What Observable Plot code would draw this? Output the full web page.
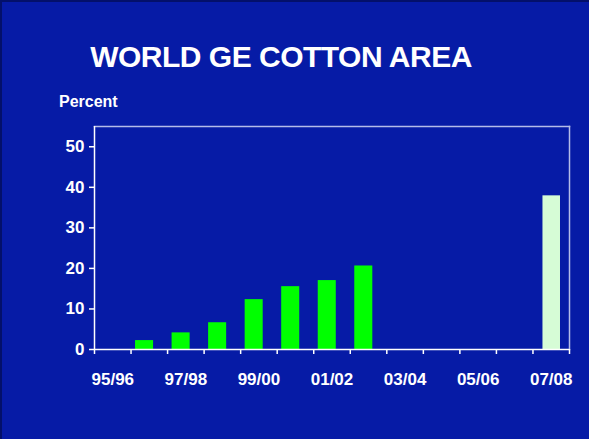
<!DOCTYPE html>
<html>
<head>
<meta charset="utf-8">
<script src="https://cdn.jsdelivr.net/npm/d3@7"></script>
<script src="https://cdn.jsdelivr.net/npm/@observablehq/plot@0.6"></script>
<style>
  html, body { margin: 0; padding: 0; background: #061ba6; }
  #slide { position: relative; width: 589px; height: 439px; background: #061ba6; box-sizing: border-box; border-top: 2px solid #03106a; border-left: 2px solid #03106a; overflow: hidden; font-family: "Liberation Sans", Arial, sans-serif; }
  #title { position: absolute; left: 0; width: 558px; top: 38px; text-align: center; color: #fff; font-weight: bold; font-size: 30px; letter-spacing: -0.5px; }
  #ylabel { position: absolute; left: 57px; top: 91px; color: #fff; font-weight: bold; font-size: 16px; }
  #chart { position: absolute; left: -2px; top: -2px; }
</style>
</head>
<body>
<div id="slide">
  <div id="title">WORLD GE COTTON AREA</div>
  <div id="ylabel">Percent</div>
  <div id="chart"></div>
</div>
<script>
const seasons = ["95/96","96/97","97/98","98/99","99/00","00/01","01/02","02/03","03/04","04/05","05/06","06/07","07/08"];
const values  = [null, 2.2, 4.1, 6.6, 12.3, 15.5, 17.0, 20.6, null, null, null, null, 37.9];
const status  = ["actual","actual","actual","actual","actual","actual","actual","actual","actual","actual","actual","actual","projected"];
const labelEvery = 2;
const yTicks = [0, 10, 20, 30, 40, 50];

const data = seasons.map((s, i) => ({season: s, i, value: values[i], status: status[i]}))
  .filter(d => d.value != null);
const actual = data.filter(d => d.status === "actual");
const projected = data.filter(d => d.status === "projected");

const boundaries = d3.range(seasons.length + 1);
const labelPos = seasons.map((s, i) => i).filter(i => i % labelEvery === 0).map(i => i + 0.5);

const chart = Plot.plot({
  width: 589,
  height: 439,
  marginLeft: 94,
  marginRight: 20,
  marginTop: 126,
  marginBottom: 90,
  style: { background: "transparent", color: "#fff", fontFamily: "'Liberation Sans', Arial, sans-serif", overflow: "visible" },
  x: { type: "linear", domain: [0, seasons.length] },
  y: { domain: [0, 55] },
  color: { domain: ["actual", "projected"], range: ["#00ff00", "#d6fcd6"] },
  marks: [
    Plot.frame({ anchor: "top", stroke: "#b4bce8", strokeWidth: 1.5 }),
    Plot.frame({ anchor: "right", stroke: "#b4bce8", strokeWidth: 1.5 }),
    Plot.rectY(actual, { x1: "i", x2: d => d.i + 1, y: "value", fill: "status", insetLeft: 4.5, insetRight: 14 }),
    Plot.rectY(projected, { x1: "i", x2: d => d.i + 1, y: "value", fill: "status", insetLeft: 10, insetRight: 9 }),
    Plot.axisY({ ticks: yTicks, tickSize: 5, tickPadding: 5, stroke: "#fff", strokeWidth: 1.5, fill: "#fff", fontSize: 17, fontWeight: "bold", label: null }),
    Plot.axisX({ ticks: boundaries, tickSize: 5, tickFormat: () => "", stroke: "#fff", strokeWidth: 1.5, label: null }),
    Plot.axisX({ ticks: labelPos, tickSize: 0, tickPadding: 23, tickFormat: d => seasons[Math.floor(d)], fill: "#fff", fontSize: 17, fontWeight: "bold", label: null }),
    Plot.ruleX([0], { stroke: "#fff", strokeWidth: 1.5 }),
    Plot.ruleY([0], { stroke: "#fff", strokeWidth: 1.5 })
  ]
});
document.getElementById("chart").appendChild(chart);
</script>
</body>
</html>
